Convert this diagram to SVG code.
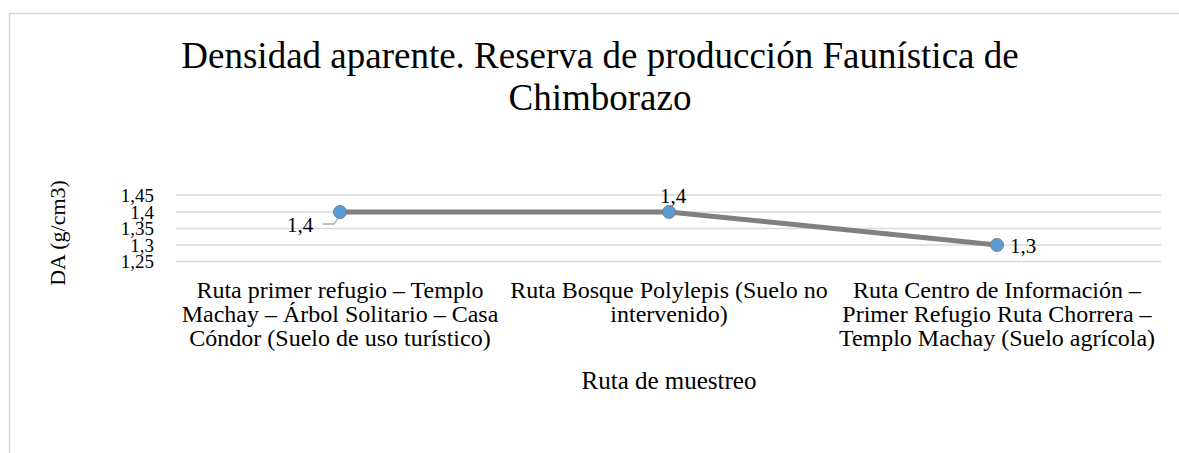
<svg xmlns="http://www.w3.org/2000/svg" width="1179" height="453" viewBox="0 0 1179 453" font-family="Liberation Serif, serif">
<style>
text{font-family:'Liberation Serif',serif;fill:#000}
.t{font-size:37px;text-anchor:middle}
.tk{font-size:19px;text-anchor:end}
.c{font-size:24px;text-anchor:middle}
.dl{font-size:21px;text-anchor:middle}
.ax{font-size:22px;text-anchor:middle}
.ax2{font-size:25px;text-anchor:middle}
.g{stroke:#d9d9d9;stroke-width:1.5}
.mk{fill:#5b9bd5;stroke:#7f7f7f;stroke-width:1}
</style>
<rect x="0" y="0" width="1179" height="453" fill="#fff"/>
<path d="M9.5 453V13.5H1179" fill="none" stroke="#d9d9d9" stroke-width="1.5"/>
<g id="title">
<text class="t" x="600" y="68">Densidad aparente. Reserva de producción Faunística de</text>
<text class="t" x="600" y="110">Chimborazo</text>
</g>
<g id="grid">
<line class="g" x1="176" y1="195" x2="1161" y2="195"/>
<line class="g" x1="176" y1="212" x2="1161" y2="212"/>
<line class="g" x1="176" y1="228.5" x2="1161" y2="228.5"/>
<line class="g" x1="176" y1="245" x2="1161" y2="245"/>
<line class="g" x1="176" y1="261.5" x2="1161" y2="261.5"/>
</g>
<g id="yticks">
<text class="tk" x="154" y="202">1,45</text>
<text class="tk" x="154" y="219">1,4</text>
<text class="tk" x="154" y="235">1,35</text>
<text class="tk" x="154" y="252">1,3</text>
<text class="tk" x="154" y="268">1,25</text>
</g>
<g id="ytitle"><text class="ax" transform="translate(65,233) rotate(-90)">DA (g/cm3)</text></g>
<g id="connectors">
<polyline points="340,212 669,212 997,245" fill="none" stroke="#808080" stroke-width="5" stroke-linejoin="round"/>
<polyline points="323,224 334,224 338,218" fill="none" stroke="#a6a6a6" stroke-width="1.3"/>
</g>
<g id="p1"><circle class="mk" cx="340" cy="212" r="6.5"/><text class="dl" x="300" y="232">1,4</text></g>
<g id="p2"><circle class="mk" cx="669" cy="212" r="6.5"/><text class="dl" x="673" y="203">1,4</text></g>
<g id="p3"><circle class="mk" cx="997" cy="245" r="6.5"/><text class="dl" x="1023" y="253">1,3</text></g>
<g id="xcats">
<text class="c" x="340" y="298">Ruta primer refugio – Templo</text>
<text class="c" x="340" y="322">Machay – Árbol Solitario – Casa</text>
<text class="c" x="340" y="346">Cóndor (Suelo de uso turístico)</text>
<text class="c" x="669" y="298">Ruta Bosque Polylepis (Suelo no</text>
<text class="c" x="669" y="322">intervenido)</text>
<text class="c" x="997" y="298">Ruta Centro de Información –</text>
<text class="c" x="997" y="322">Primer Refugio Ruta Chorrera –</text>
<text class="c" x="997" y="346">Templo Machay (Suelo agrícola)</text>
</g>
<g id="xtitle"><text class="ax2" x="669" y="389">Ruta de muestreo</text></g>
</svg>
